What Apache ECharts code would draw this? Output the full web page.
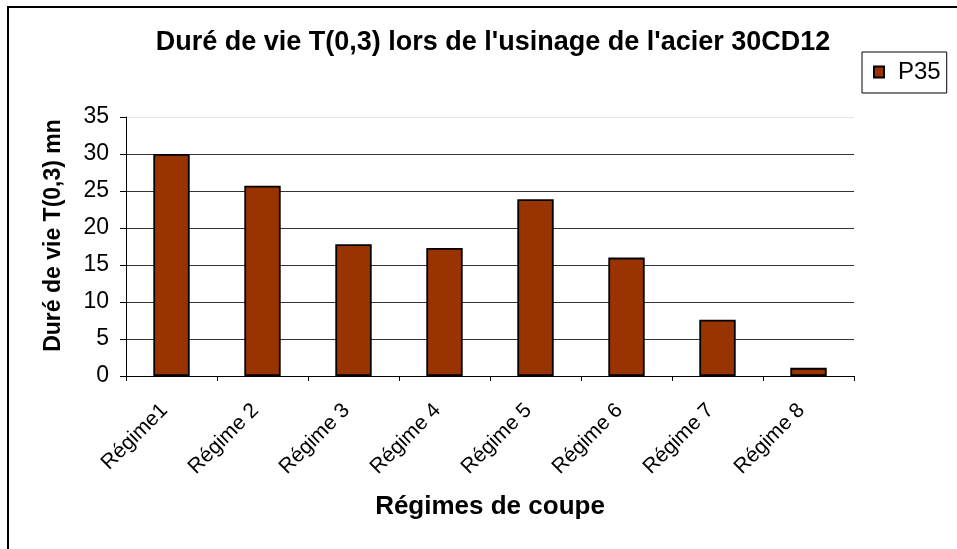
<!DOCTYPE html>
<html>
<head>
<meta charset="utf-8">
<script src="https://cdn.jsdelivr.net/npm/echarts@6/dist/echarts.min.js"></script>
<style>
  html, body { margin: 0; padding: 0; background: #fff; }
  #chart { width: 957px; height: 549px; }
</style>
</head>
<body>
<div id="chart"></div>
<script>
// Tool life T(0,3) per cutting regime, carbide grade P35
const categories = ['Régime1', 'Régime 2', 'Régime 3', 'Régime 4', 'Régime 5', 'Régime 6', 'Régime 7', 'Régime 8'];
const p35 = [30.0, 25.7, 17.8, 17.3, 23.9, 16.0, 7.6, 1.1];
const yTicks = [0, 5, 10, 15, 20, 25, 30, 35];

const FONT = '"Liberation Sans", Arial, sans-serif';
const chart = echarts.init(document.getElementById('chart'), null, { renderer: 'canvas' });

chart.setOption({
  backgroundColor: '#fff',
  animation: false,
  title: {
    text: "Duré de vie T(0,3) lors de l'usinage de l'acier 30CD12",
    left: 488,
    textAlign: 'center',
    top: 24,
    textStyle: { fontFamily: FONT, fontWeight: 'bold', fontSize: 27, color: '#000' }
  },
  legend: {
    data: ['P35'],
    left: 862,
    top: 52,
    padding: [8, 6, 9, 11],
    itemWidth: 10,
    itemHeight: 11,
    borderColor: '#000',
    borderWidth: 1,
    backgroundColor: '#fff',
    icon: 'rect',
    textStyle: { fontFamily: FONT, fontSize: 24, color: '#000', padding: [0, 0, 0, 9] }
  },
  graphic: [{
    type: 'rect',
    shape: { x: 8, y: 7, width: 1000, height: 600 },
    style: { fill: 'none', stroke: '#000', lineWidth: 2 },
    silent: true,
    z: -1
  }],
  grid: { left: 126, right: 103, top: 117, bottom: 173, containLabel: false },
  xAxis: {
    type: 'category',
    data: categories,
    boundaryGap: true,
    name: 'Régimes de coupe',
    nameLocation: 'middle',
    nameGap: 118,
    nameTextStyle: { fontFamily: FONT, fontWeight: 'bold', fontSize: 26, color: '#000' },
    axisLine: { lineStyle: { color: '#000', width: 1 } },
    axisTick: { show: true, inside: false, length: 5, lineStyle: { color: '#000' } },
    axisLabel: { rotate: 45, margin: 24, padding: [0, 10, 0, 0], fontFamily: FONT, fontSize: 21, color: '#000', interval: 0 },
    splitLine: { show: false }
  },
  yAxis: {
    type: 'value',
    min: yTicks[0],
    max: yTicks[yTicks.length - 1],
    interval: 5,
    name: 'Duré de vie T(0,3) mn',
    nameLocation: 'middle',
    nameGap: 61,
    nameTextStyle: { fontFamily: FONT, fontWeight: 'bold', fontSize: 23, color: '#000', padding: [0, 0, 0, 22] },
    axisLine: { show: true, lineStyle: { color: '#000', width: 1 } },
    axisTick: { show: true, inside: false, length: 6, lineStyle: { color: '#000' } },
    axisLabel: { margin: 17, fontFamily: FONT, fontSize: 23, color: '#000' },
    splitLine: {
      show: true,
      lineStyle: { color: ['#000', '#333', '#333', '#333', '#333', '#333', '#333', '#e6e6e6'], width: 1 }
    }
  },
  series: [{
    name: 'P35',
    type: 'bar',
    data: p35,
    barWidth: '40%',
    itemStyle: { color: '#993300', borderColor: '#000', borderWidth: 1.8 }
  }]
});
</script>
</body>
</html>
